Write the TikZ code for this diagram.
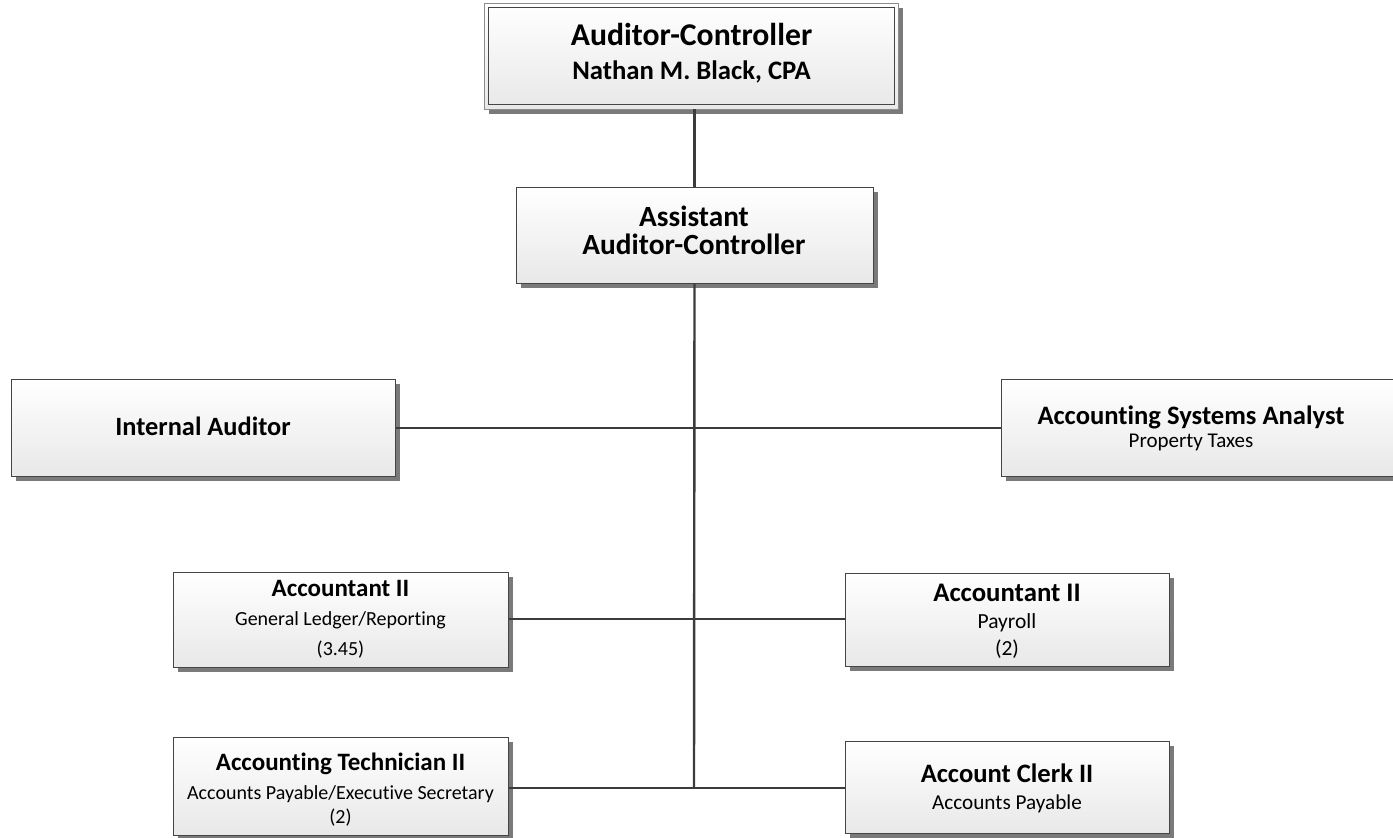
\documentclass[tikz,border=0pt]{standalone}
\usepackage{fontspec}
\setmainfont[Ligatures=NoCommon]{Carlito}
\usetikzlibrary{shadows}
\definecolor{edge}{HTML}{454545}
\definecolor{wire}{HTML}{3C3C3C}
\newcommand{\fs}[1]{\fontsize{#1}{#1}\selectfont}
\begin{document}
\begin{tikzpicture}[x=1pt,y=-1pt,
  box/.style={draw=edge, line width=1pt, rectangle, inner sep=0pt,
    top color=white, bottom color=black!9,
    drop shadow={shadow xshift=4.5pt, shadow yshift=-4.5pt, fill=black!52, opacity=1}},
  lbl/.style={anchor=base, inner sep=0pt},
  link/.style={draw=wire, line width=2.4pt}]
\useasboundingbox (0,0) rectangle (1393,838);

% boxes
\node[box, draw=black!45, line width=0.9pt, minimum width=414pt, minimum height=106pt] (ac) at (691.5,56) {};
\draw[draw=edge, line width=1pt] ([shift={(4.5pt,-4.5pt)}]ac.north west) rectangle ([shift={(-4.5pt,4.5pt)}]ac.south east);
\node[box, minimum width=357pt, minimum height=96pt] (aac) at (694.5,235) {};
\node[box, minimum width=384pt, minimum height=97pt] (ia) at (203,427.5) {};
\node[box, minimum width=400pt, minimum height=97pt] (asa) at (1201,427.5) {};
\node[box, minimum width=335pt, minimum height=95pt] (gl) at (340.5,619.5) {};
\node[box, minimum width=324pt, minimum height=93pt] (pay) at (1007,619.5) {};
\node[box, minimum width=335pt, minimum height=98pt] (tech) at (340.5,786) {};
\node[box, minimum width=324pt, minimum height=92pt] (clerk) at (1007,787) {};

% labels, set on their baselines
\node[lbl, font=\bfseries\fs{31.7}] (ac1) at (ac.center |- 0,45.7) {Auditor-Controller};
\node[lbl, font=\bfseries\fs{26.7}] (ac2) at (ac.center |- 0,79.3) {Nathan M. Black, CPA};
\node[lbl, font=\bfseries\fs{29.3}] (aac1) at (694,226.7) {Assistant};
\node[lbl, font=\bfseries\fs{29.3}] (aac2) at (694,254) {Auditor-Controller};
\node[lbl, font=\bfseries\fs{26.4}] (ia1) at (ia.center |- 0,435.7) {Internal Auditor};
\node[lbl, font=\bfseries\fs{26.6}] (asa1) at (1191,424) {Accounting Systems Analyst};
\node[lbl, font=\fs{21}] (asa2) at (1191,447.3) {Property Taxes};
\node[lbl, font=\bfseries\fs{25}] (gl1) at (gl.center |- 0,596.7) {Accountant II};
\node[lbl, font=\fs{20}] (gl2) at (gl.center |- 0,625) {General Ledger/Reporting};
\node[lbl, font=\fs{20}] (gl3) at (gl.center |- 0,655) {(3.45)};
\node[lbl, font=\bfseries\fs{26.8}] (pay1) at (pay.center |- 0,601.7) {Accountant II};
\node[lbl, font=\fs{21.5}] (pay2) at (pay.center |- 0,628.3) {Payroll};
\node[lbl, font=\fs{21.5}] (pay3) at (pay.center |- 0,655) {(2)};
\node[lbl, font=\bfseries\fs{25}] (tech1) at (tech.center |- 0,770) {Accounting Technician II};
\node[lbl, font=\fs{20}] (tech2) at (tech.center |- 0,799.3) {Accounts Payable/Executive Secretary};
\node[lbl, font=\fs{20}] (tech3) at (tech.center |- 0,823) {(2)};
\node[lbl, font=\bfseries\fs{26.6}] (clerk1) at (clerk.center |- 0,782.3) {Account Clerk II};
\node[lbl, font=\fs{21.2}] (clerk2) at (clerk.center |- 0,809.3) {Accounts Payable};

% trunk and branches
\coordinate (j1) at (694,428);
\coordinate (j2) at (694,619);
\coordinate (j3) at (694,788);
\draw[link] (ac.south -| aac.north) -- (aac.north);
\draw[link] (aac.south) -- (j3);
\draw[link] (ia.east |- j1) -- (asa.west |- j1);
\draw[link] (gl.east |- j2) -- (pay.west |- j2);
\draw[link] (tech.east |- j3) -- (clerk.west |- j3);
\end{tikzpicture}
\end{document}
